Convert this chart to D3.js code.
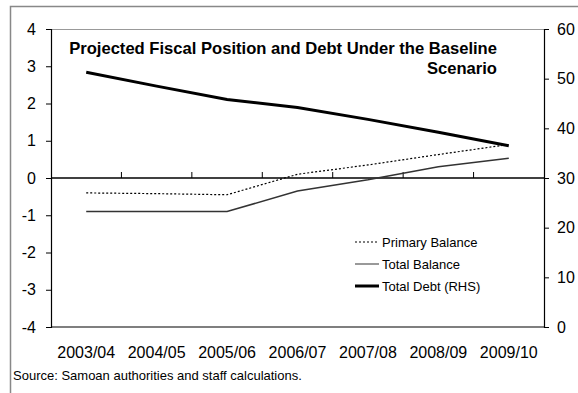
<!DOCTYPE html>
<html>
<head>
<meta charset="utf-8">
<script src="https://cdn.jsdelivr.net/npm/d3@7"></script>
<style>
	body { margin: 0; background: #fff; }
	svg { font-family: "Liberation Sans", Arial, sans-serif; }
</style>
</head>
<body>
<svg id="chart" width="578" height="393"></svg>
<script>
const years = ["2003/04", "2004/05", "2005/06", "2006/07", "2007/08", "2008/09", "2009/10"];
const primaryBalance = [-0.4, -0.42, -0.45, 0.1, 0.35, 0.63, 0.9];
const totalBalance = [-0.9, -0.9, -0.9, -0.35, -0.05, 0.3, 0.53];
const totalDebt = [51.3, 48.5, 45.8, 44.2, 41.8, 39.2, 36.5];
const leftTicks = [-4, -3, -2, -1, 0, 1, 2, 3, 4];
const rightTicks = [0, 10, 20, 30, 40, 50, 60];
const titleLines = ["Projected Fiscal Position and Debt Under the Baseline", "Scenario"];
const legendItems = ["Primary Balance", "Total Balance", "Total Debt (RHS)"];

const svg = d3.select("#chart");
const plotL = 51, plotR = 544, plotT = 29, plotB = 327;

const x = d3.scaleBand().domain(years).range([plotL, plotR]);
const yL = d3.scaleLinear().domain([-4, 4]).range([plotB, plotT]);
const yR = d3.scaleLinear().domain([0, 60]).range([plotB, plotT]);

// outer frame (left and top edges only)
svg.append("path")
	.attr("d", "M10.5,393 V6.5 H578")
	.attr("fill", "none").attr("stroke", "#888").attr("stroke-width", 1.5);

// plot border top / bottom
svg.append("line")
	.attr("x1", plotL).attr("x2", plotR).attr("y1", plotT + 0.5).attr("y2", plotT + 0.5)
	.attr("stroke", "#999");
svg.append("line")
	.attr("x1", plotL).attr("x2", plotR).attr("y1", plotB).attr("y2", plotB)
	.attr("stroke", "#000").attr("stroke-width", 1.2);

// left axis (plain hyphen for negatives, like the original)
const axL = svg.append("g").attr("transform", `translate(${plotL},0)`)
	.call(d3.axisLeft(yL).tickValues(leftTicks).tickSize(5).tickPadding(10).tickFormat(d => String(d)));
// right axis
const axR = svg.append("g").attr("transform", `translate(${plotR},0)`)
	.call(d3.axisRight(yR).tickValues(rightTicks).tickSize(5).tickPadding(8));
[axL, axR].forEach(ax => {
	ax.select(".domain").attr("stroke", "#000").attr("stroke-width", 1.2);
	ax.selectAll(".tick line").attr("stroke", "#000");
	ax.selectAll("text").attr("font-size", 16).attr("fill", "#000")
		.attr("font-family", "Liberation Sans, Arial, sans-serif");
});

// zero line with category separator ticks pointing up
svg.append("line")
	.attr("x1", plotL).attr("x2", plotR).attr("y1", yL(0)).attr("y2", yL(0))
	.attr("stroke", "#000").attr("stroke-width", 1.5);
svg.append("g").selectAll("line")
	.data(years.slice(1))
	.join("line")
	.attr("x1", d => x(d)).attr("x2", d => x(d))
	.attr("y1", yL(0)).attr("y2", yL(0) - 6)
	.attr("stroke", "#000");

// x labels
svg.append("g").selectAll("text")
	.data(years)
	.join("text")
	.attr("x", d => x(d) + x.bandwidth() / 2)
	.attr("y", 358)
	.attr("text-anchor", "middle")
	.attr("font-size", 16)
	.text(d => d);

const cx = d => x(d) + x.bandwidth() / 2;

svg.append("path")
	.datum(primaryBalance)
	.attr("fill", "none").attr("stroke", "#000").attr("stroke-width", 1.2)
	.attr("stroke-dasharray", "2,2")
	.attr("d", d3.line().x((d, i) => cx(years[i])).y(d => yL(d)));

svg.append("path")
	.datum(totalBalance)
	.attr("fill", "none").attr("stroke", "#333").attr("stroke-width", 1.5)
	.attr("d", d3.line().x((d, i) => cx(years[i])).y(d => yL(d)));

svg.append("path")
	.datum(totalDebt)
	.attr("fill", "none").attr("stroke", "#000").attr("stroke-width", 3)
	.attr("d", d3.line().x((d, i) => cx(years[i])).y(d => yR(d)));

// title
svg.append("g").selectAll("text")
	.data(titleLines)
	.join("text")
	.attr("x", 497)
	.attr("y", (d, i) => 54 + i * 20)
	.attr("text-anchor", "end")
	.attr("font-size", 16.6)
	.attr("font-weight", "bold")
	.text(d => d);

// legend
const legendStyles = [
	{ stroke: "#000", width: 1.2, dash: "2,2" },
	{ stroke: "#777", width: 1.5, dash: null },
	{ stroke: "#000", width: 3, dash: null }
];
const lg = svg.append("g").selectAll("g")
	.data(legendItems)
	.join("g")
	.attr("transform", (d, i) => `translate(355,${242 + i * 22})`);
lg.append("line")
	.attr("x1", 0).attr("x2", 24)
	.attr("stroke", (d, i) => legendStyles[i].stroke)
	.attr("stroke-width", (d, i) => legendStyles[i].width)
	.attr("stroke-dasharray", (d, i) => legendStyles[i].dash);
lg.append("text")
	.attr("x", 27).attr("dy", "0.35em")
	.attr("font-size", 13)
	.text(d => d);

// source note
svg.append("text")
	.attr("x", 13).attr("y", 380)
	.attr("font-size", 13)
	.text("Source: Samoan authorities and staff calculations.");
</script>
</body>
</html>
